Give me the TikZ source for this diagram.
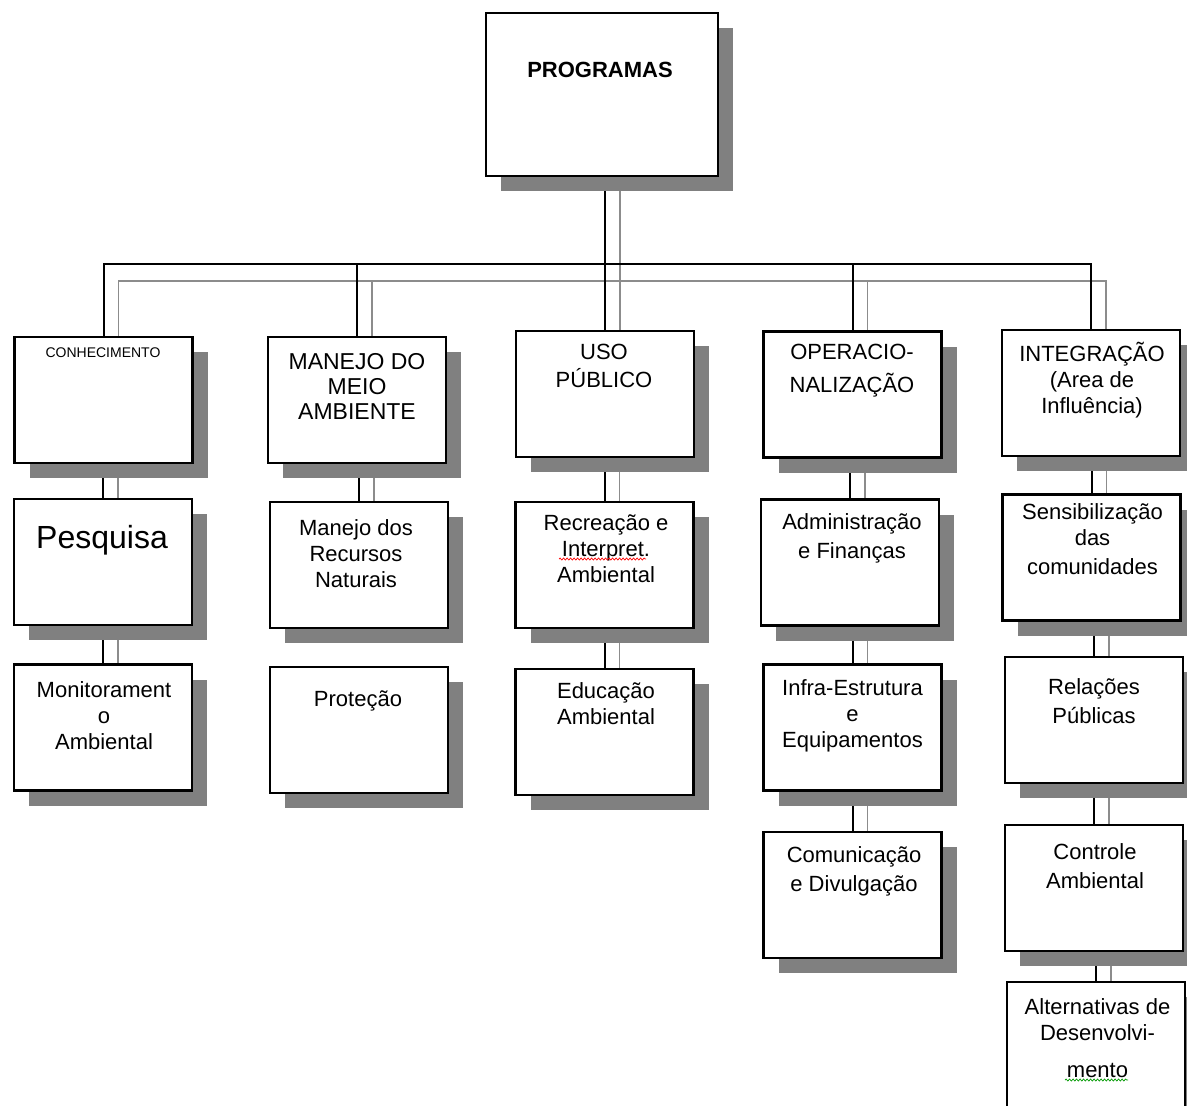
\documentclass[tikz,border=0pt]{standalone}
\usepackage{fontspec}
\setmainfont{Liberation Sans}
\usetikzlibrary{shadows,backgrounds,decorations.pathmorphing}
\definecolor{boxshade}{HTML}{808080}
\definecolor{linkshade}{HTML}{8C8C8C}
\begin{document}
\begin{tikzpicture}[x=1pt,y=-1pt,
  unitbox/.style={draw, line width=2.1pt, fill=white,
    minimum width=178pt, minimum height=126pt,
    drop shadow={shadow xshift=15pt, shadow yshift=-15pt, fill=boxshade, opacity=1}},
  topbox/.style={unitbox, minimum width=232pt, minimum height=163pt},
  link/.style={line width=2pt},
  linkshade/.style={line width=1.8pt, color=linkshade},
  lbl/.style={align=center, inner sep=0pt, font=\fontsize{22}{26}\selectfont},
  spellmark/.style={line width=0.7pt, decorate,
    decoration={snake, amplitude=1pt, segment length=3.5pt}}]
   \useasboundingbox (0,0) rectangle (1187,1106);
   % boxes
   \node[topbox] (prog) at (602,94.5) {};
   \node[unitbox] (conh) at (103.5,400) {};
   \node[unitbox] (manejo) at (357,400) {};
   \node[unitbox] (uso) at (605,394) {};
   \node[unitbox] (oper) at (852.5,394.5) {};
   \node[unitbox] (integ) at (1091,393) {};
   \node[unitbox] (pesq) at (103,562) {};
   \node[unitbox] (monit) at (103,727.5) {};
   \node[unitbox] (recnat) at (359,565) {};
   \node[unitbox] (prot) at (359,730) {};
   \node[unitbox] (recr) at (604.5,565) {};
   \node[unitbox] (educ) at (604.5,732) {};
   \node[unitbox] (admin) at (850,562.5) {};
   \node[unitbox] (infra) at (852.5,727.5) {};
   \node[unitbox] (comun) at (852.5,895) {};
   \node[unitbox] (sens) at (1091.5,557.5) {};
   \node[unitbox] (rel) at (1094,720) {};
   \node[unitbox] (contr) at (1094,888) {};
   \node[unitbox] (alt) at (1096,1045) {};
   \coordinate (bus) at (0,264);
   \coordinate (busg) at (0,281);
   % connectors
   \begin{scope}[on background layer]
   \draw[linkshade] ([xshift=15pt]prog.south -| uso.north) -- ([xshift=15pt]uso.north);
   \draw[linkshade] ([xshift=15pt]conh.north) |- ([xshift=15pt]integ.north |- busg)
      -- ([xshift=15pt]integ.north);
   \foreach \b in {manejo,oper}
      \draw[linkshade] ([xshift=15pt]\b.north) -- ([xshift=15pt]\b.north |- busg);
   \draw[link] (prog.south -| uso.north) -- (uso.north);
   \draw[link] (conh.north) |- (integ.north |- bus) -- (integ.north);
   \foreach \b in {manejo,oper}
      \draw[link] (\b.north) -- (\b.north |- bus);
   \foreach \a/\b in {conh/pesq,pesq/monit,manejo/recnat,uso/recr,recr/educ,
      oper/admin,admin/infra,infra/comun,integ/sens,sens/rel,rel/contr,contr/alt} {
      \draw[linkshade] ([xshift=15pt]\b.north) -- ([xshift=15pt]\b.north |- \a.south);
      \draw[link] (\b.north) -- (\b.north |- \a.south);
   }
   \end{scope}
   % texts
   \node[lbl, font=\bfseries\fontsize{22}{26}\selectfont] (prog-t) at (600,70) {PROGRAMAS};
   \node[lbl, font=\fontsize{14}{16}\selectfont] (conh-t) at (103,353) {CONHECIMENTO};
   \node[lbl, font=\fontsize{23}{25}\selectfont] (manejo-t) at (357,386) {MANEJO DO\\MEIO\\AMBIENTE};
   \node[lbl] (uso-t) at (604,366) {USO\\[2pt]PÚBLICO};
   \node[lbl] (oper-t) at (852,371) {OPERACIO-\\[7pt]NALIZAÇÃO};
   \node[lbl] (integ-t) at (1092,380) {INTEGRAÇÃO\\(Area de\\Influência)};
   \node[lbl, font=\fontsize{32}{36}\selectfont] (pesq-t) at (102,540) {Pesquisa};
   \node[lbl] (monit-t) at (104,715.5) {Monitorament\\o\\Ambiental};
   \node[lbl] (recnat-t) at (356,553.5) {Manejo dos\\Recursos\\Naturais};
   \node[lbl] (prot-t) at (358,701) {Proteção};
   \node[lbl] (recr-t) at (606,548.5) {Recreação e\\Interpret.\\Ambiental};
   \node[lbl] (educ-t) at (606,703.5) {Educação\\Ambiental};
   \node[lbl] (admin-t) at (852,538.5) {Administração\\[3pt]e Finanças};
   \node[lbl] (infra-t) at (852.5,716) {Infra-Estrutura\\e\\Equipamentos};
   \node[lbl] (comun-t) at (854,871.5) {Comunicação\\[3pt]e Divulgação};
   \node[lbl] (sens-t) at (1092.5,539) {Sensibilização\\das\\[3pt]comunidades};
   \node[lbl] (rel-t) at (1094,701.5) {Relações\\[3pt]Públicas};
   \node[lbl] (contr-t) at (1095,866.5) {Controle\\[3pt]Ambiental};
   \node[lbl] (alt-t) at (1097.5,1038) {Alternativas de\\Desenvolvi-\\[11pt]mento};
   % spelling marks
   \draw[spellmark, red] (559,559) -- (646,559);
   \draw[spellmark, green!60!black] (1065,1080) -- (1128,1080);
\end{tikzpicture}
\end{document}
